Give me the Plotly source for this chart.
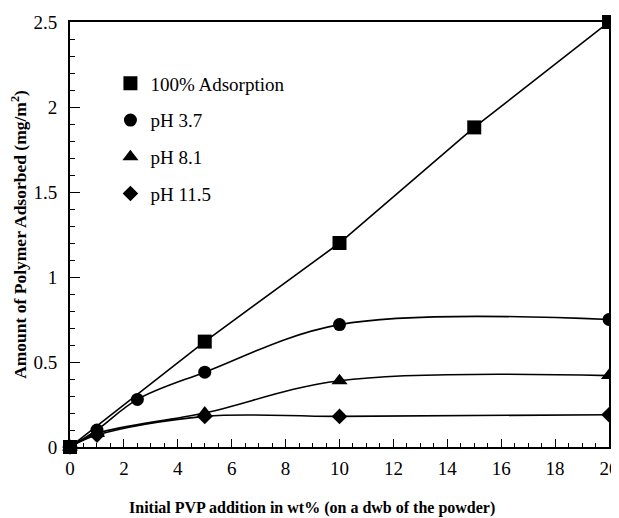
import plotly.graph_objects as go

FONT = "Liberation Serif, Times New Roman, serif"

x_full = [0, 5, 10, 15, 20]
y_full = [0, 0.62, 1.2, 1.88, 2.5]

x_ph37 = [0, 1, 2.5, 5, 10, 20]
y_ph37 = [0, 0.1, 0.28, 0.44, 0.72, 0.75]

x_ph81 = [0, 1, 5, 10, 20]
y_ph81 = [0, 0.08, 0.2, 0.39, 0.42]

x_ph115 = [0, 1, 5, 10, 20]
y_ph115 = [0, 0.07, 0.18, 0.18, 0.19]

names = ["100% Adsorption", "pH 3.7", "pH 8.1", "pH 11.5"]
symbols = ["square", "circle", "triangle-up", "diamond"]
sizes = [14, 13, 14, 12]

x_title = "<b>Initial PVP addition in wt% (on a dwb of the powder)</b>"
y_title = "<b>Amount of Polymer Adsorbed (mg/m<sup>2</sup>)</b>"

series = [(x_full, y_full, "linear"), (x_ph37, y_ph37, "spline"),
          (x_ph81, y_ph81, "spline"), (x_ph115, y_ph115, "spline")]

fig = go.Figure()
for (xs, ys, shape), sym, sz in zip(series, symbols, sizes):
    fig.add_trace(go.Scatter(
        x=xs, y=ys, mode="lines+markers", showlegend=False,
        line=dict(color="black", width=1.6, shape=shape, smoothing=1.0),
        marker=dict(symbol=sym, size=sz, color="black"),
        cliponaxis=False,
    ))

# legend-only entries (markers only)
for i, (nm, sym, sz) in enumerate(zip(names, symbols, sizes)):
    fig.add_trace(go.Scatter(
        x=[None], y=[None], mode="markers", name=nm, legendgroup=f"g{i}",
        marker=dict(symbol=sym, size=sz, color="black"),
    ))

# page body has an 8px margin, so the figure is shrunk/offset accordingly
fig.update_layout(
    width=611, height=510,
    margin=dict(l=62, r=10, t=14, b=71),
    plot_bgcolor="white", paper_bgcolor="white",
    font=dict(family=FONT, size=19, color="black"),
    legend=dict(x=0.075, y=0.9, xanchor="left", yanchor="top",
                bgcolor="rgba(0,0,0,0)", tracegroupgap=9,
                font=dict(family=FONT, size=19), itemwidth=30),
    showlegend=True,
    annotations=[dict(text=x_title, xref="paper", yref="paper",
                      x=0.449, y=-0.1435, xanchor="center", yanchor="middle",
                      showarrow=False, font=dict(family=FONT, size=16))],
)

fig.update_xaxes(
    range=[0, 20], tickmode="linear", tick0=0, dtick=2,
    ticks="inside", ticklen=8, tickwidth=1.2, tickcolor="black",
    minor=dict(dtick=0.5, ticks="inside", ticklen=4, tickwidth=1, tickcolor="black"),
    showline=True, linecolor="black", linewidth=2, mirror=True,
    showgrid=False, zeroline=False, automargin=False,
    tickfont=dict(family=FONT, size=19), ticklabelstandoff=3,
)
fig.update_yaxes(
    range=[0, 2.5], tickmode="array",
    tickvals=[0, 0.5, 1, 1.5, 2, 2.5], ticktext=["0", "0.5", "1", "1.5", "2", "2.5"],
    ticks="inside", ticklen=10, tickwidth=1.2, tickcolor="black",
    minor=dict(dtick=0.1, tick0=0, ticks="inside", ticklen=5, tickwidth=1, tickcolor="black"),
    showline=True, linecolor="black", linewidth=2, mirror=True,
    showgrid=False, zeroline=False, automargin=False,
    tickfont=dict(family=FONT, size=19), ticklabelstandoff=7,
    title=dict(text=y_title, font=dict(family=FONT, size=17.5), standoff=10),
)

fig.write_html("out.html")
